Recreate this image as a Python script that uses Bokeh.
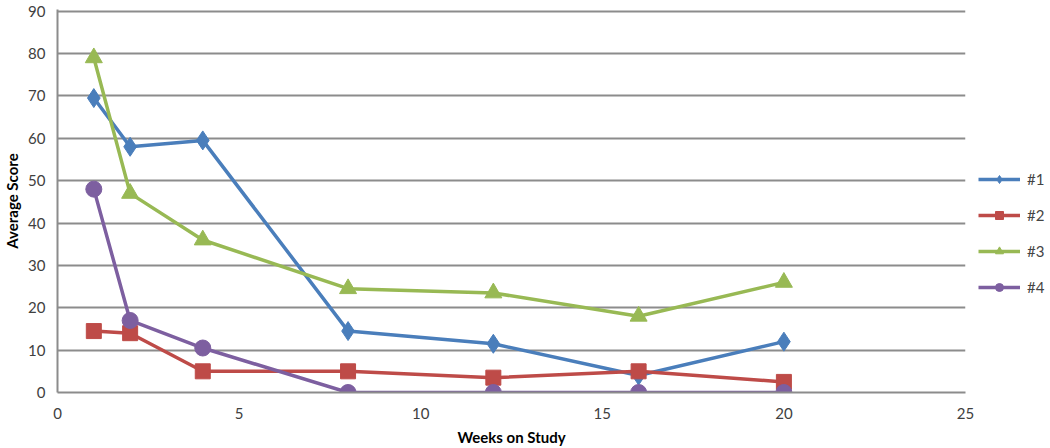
from bokeh.plotting import figure
from bokeh.models import Legend, LegendItem, Range1d, FixedTicker
from bokeh.embed import file_html
from bokeh.resources import INLINE

weeks = [1, 2, 4, 8, 12, 16, 20]
s1 = [69.5, 58, 59.5, 14.5, 11.5, 4, 12]
s2 = [14.5, 14, 5, 5, 3.5, 5, 2.5]
s3 = [79, 47, 36, 24.5, 23.5, 18, 26]
s4 = [48, 17, 10.5, 0, 0, 0, 0]
names = ["#1", "#2", "#3", "#4"]
colors = ["#4A7EBB", "#BE4B48", "#98B954", "#7D5FA0"]
markers = ["diamond", "square", "triangle", "circle"]
sizes = [19, 15, 17, 16]

p = figure(frame_width=908, frame_height=383, output_backend="svg", toolbar_location=None,
           x_range=Range1d(0, 25), y_range=Range1d(0, 90.4),
           min_border_left=0, min_border_right=0, min_border_top=9, min_border_bottom=0)
p.outline_line_color = None
p.xgrid.grid_line_color = None
p.ygrid.grid_line_color = "#8C8C8C"
p.ygrid.grid_line_width = 2
p.yaxis.ticker = FixedTicker(ticks=list(range(0, 91, 10)))
p.xaxis.ticker = FixedTicker(ticks=[0, 5, 10, 15, 20, 25])
for ax in (p.xaxis[0], p.yaxis[0]):
    ax.axis_line_color = "#8C8C8C"
    ax.axis_line_width = 2
    ax.major_tick_line_color = None
    ax.minor_tick_line_color = None
    ax.major_label_text_font = "Lato"
    ax.major_label_text_font_size = "15px"
    ax.major_label_text_color = "#404040"
    ax.axis_label_text_font = "Lato"
    ax.axis_label_text_font_size = "15px"
    ax.axis_label_text_font_style = "bold"
    ax.axis_label_text_color = "#000000"
p.xaxis.axis_label = "Weeks on Study"
p.yaxis.axis_label = "Average Score"
p.xaxis.major_label_standoff = 9
p.yaxis.major_label_standoff = 6
p.xaxis.axis_label_standoff = 6
p.yaxis.axis_label_standoff = 4

items = []
for name, ys, c, m, s in zip(names, [s1, s2, s3, s4], colors, markers, sizes):
    r1 = p.line(weeks, ys, line_color=c, line_width=3.5)
    r2 = p.scatter(weeks, ys, marker=m, size=s, fill_color=c, line_color=c)
    items.append(LegendItem(label=name, renderers=[r1, r2]))

legend = Legend(items=items, location=(13, 95), border_line_color=None,
                background_fill_alpha=0, label_text_font="Lato",
                label_text_font_size="15px", spacing=16, glyph_width=42,
                glyph_height=20, label_height=20,
                label_standoff=7, margin=4, padding=2)
p.add_layout(legend, "right")

open("out.html", "w").write(file_html(p, INLINE))
